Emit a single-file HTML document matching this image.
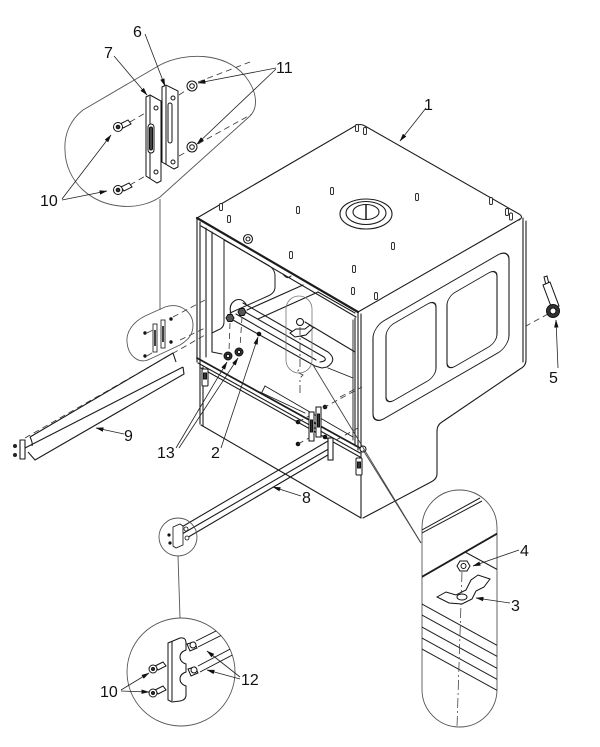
<!DOCTYPE html>
<html><head><meta charset="utf-8"><style>
html,body{margin:0;padding:0;background:#fff;}
svg{display:block;}
text{font-family:"Liberation Sans",Arial,sans-serif;font-size:16px;fill:#111;}
</style></head><body>
<svg width="600" height="747" viewBox="0 0 600 747" xmlns="http://www.w3.org/2000/svg">
<defs>
<marker id="ar" markerWidth="8" markerHeight="6" refX="7.5" refY="3" orient="auto" markerUnits="userSpaceOnUse"><path d="M0,0.8 L8,3 L0,5.2 Z" fill="#111"/></marker>
<clipPath id="cb"><rect x="422" y="490" width="75" height="237" rx="37.5"/></clipPath>
<clipPath id="cc"><circle cx="181" cy="672" r="54"/></clipPath>
</defs>
<rect width="600" height="747" fill="#fff"/>

<!-- ===== MAIN BOX ===== -->
<g fill="none" stroke="#1c1c1c" stroke-width="1.1" stroke-linejoin="round" stroke-linecap="round">
  <path d="M197,218 L355,126 Q360,123 365,126 L519,214 Q524,217 519,220"/>
  <line x1="358" y1="312" x2="520" y2="219"/>
  <path d="M197,218 L358,312" stroke-width="2.2"/>
  <path d="M201,226 L356,317"/>
  <line x1="523" y1="218" x2="523" y2="362"/>
  <line x1="526" y1="221" x2="526" y2="360"/>
  <path d="M526,360 Q526,366 520,369 L442,422 Q437,425 437,431 L437,474 Q437,479 431,482 L363,518"/>
  <line x1="358" y1="312" x2="358" y2="450"/>
  <line x1="361" y1="314" x2="361" y2="518"/>
  <line x1="355" y1="318" x2="355" y2="446"/>
  <line x1="197" y1="218" x2="197" y2="362"/>
  <line x1="200" y1="222" x2="200" y2="362"/>
  <line x1="206" y1="228" x2="206" y2="357"/>
  <line x1="212" y1="232" x2="212" y2="352"/>
  <line x1="197" y1="358" x2="360" y2="448" stroke-width="1.7"/>
  <line x1="198" y1="363" x2="360" y2="453"/>
  <line x1="201" y1="368" x2="360" y2="457"/>
  <line x1="200" y1="362" x2="200" y2="424"/>
  <line x1="203" y1="367" x2="203" y2="426"/>
  <line x1="201" y1="425" x2="361" y2="518"/>

  <g transform="translate(373,327) skewY(-30)"><rect x="0" y="0" width="136" height="98" rx="11"/></g>
  <g transform="translate(386,328) skewY(-30)"><rect x="0" y="0" width="50" height="77" rx="8"/></g>
  <g transform="translate(447,297) skewY(-30)"><rect x="0" y="0" width="50" height="74" rx="8"/></g>

  <ellipse cx="366" cy="214" rx="26" ry="15"/>
  <ellipse cx="366" cy="213" rx="20" ry="11.5"/>
  <ellipse cx="366" cy="212" rx="13" ry="7.5"/>
  <line x1="366" y1="205" x2="366" y2="219" stroke-width="1.5"/>

  <circle cx="248" cy="239" r="4.5"/><circle cx="248" cy="239" r="2"/>
  <path d="M283,274 Q287,280 291,276"/>

  <path d="M224,240 L268,265 Q275,269 275,276 L275,287 Q275,293 268,296 L230,313" stroke-width="1"/>
  <path d="M224,240 L224,322 Q224,328 218,330 L212,333" stroke-width="1"/>
  <line x1="303" y1="285" x2="247" y2="310"/>
  <line x1="318" y1="292" x2="258" y2="319"/>
  <line x1="318" y1="292" x2="355" y2="313"/>
  <line x1="305" y1="322" x2="355" y2="352"/>
  <line x1="265" y1="386" x2="353" y2="437" stroke-width="0.9"/>
  <line x1="260" y1="392" x2="305" y2="413" stroke-width="0.9"/>
  <line x1="265" y1="386" x2="262" y2="392" stroke-width="0.9"/>
  <line x1="212" y1="352" x2="222" y2="354" stroke-width="0.9"/>
  <line x1="328" y1="368" x2="353" y2="378" stroke-width="0.9"/>
  <line x1="353" y1="320" x2="353" y2="440" stroke-width="0.9"/>

  <path d="M243,303 L328,352 Q338,360 327,367 L322,368"/>
  <path d="M240,309 L324,357 Q328,361 320,362"/>
  <path d="M236,314 L316,360"/>
  <path d="M233,320 L315,366 L322,368"/>
  <path d="M231,314 Q228,304 236,300 Q242,298 246,304"/>
</g>

<g fill="#fff" stroke="#222" stroke-width="0.9">
  <rect x="355.5" y="124.5" width="3" height="7" rx="1.3"/>
  <rect x="363.5" y="127.5" width="3" height="7" rx="1.3"/>
  <rect x="330.5" y="187.5" width="3" height="7" rx="1.3"/>
  <rect x="415.5" y="193.5" width="3" height="7" rx="1.3"/>
  <rect x="219.5" y="203.5" width="3" height="7" rx="1.3"/>
  <rect x="227.5" y="215.5" width="3" height="7" rx="1.3"/>
  <rect x="296.5" y="206.5" width="3" height="7" rx="1.3"/>
  <rect x="489.5" y="197.5" width="3" height="7" rx="1.3"/>
  <rect x="505.5" y="208.5" width="3" height="7" rx="1.3"/>
  <rect x="509.5" y="213" width="3" height="7" rx="1.3"/>
  <rect x="391.5" y="242.5" width="3" height="7" rx="1.3"/>
  <rect x="289.5" y="251.5" width="3" height="7" rx="1.3"/>
  <rect x="352.5" y="265.5" width="3" height="7" rx="1.3"/>
  <rect x="351.5" y="287.5" width="3" height="7" rx="1.3"/>
  <rect x="374.5" y="292.5" width="3" height="7" rx="1.3"/>
</g>

<g stroke="#111" stroke-width="1" fill="#fff">
  <path d="M226,318 L228,314.5 L232,314.5 L234,318 L232,321.5 L228,321.5 Z" fill="#555"/>
  <path d="M238,312 L240,308.5 L244,308.5 L246,312 L244,315.5 L240,315.5 Z" fill="#555"/>
  <circle cx="228" cy="356" r="4" fill="#333"/><circle cx="228" cy="356" r="1.6" fill="#fff"/>
  <circle cx="239" cy="352" r="4" fill="#333"/><circle cx="239" cy="352" r="1.6" fill="#fff"/>
  <circle cx="300" cy="322" r="3.5"/>
  <path d="M290,333 L296,329 L305,329 L310,325 L313,328 L306,335 L295,337 Z"/>
  <circle cx="259" cy="334" r="1.8" fill="#111"/>
  <circle cx="363" cy="449" r="3"/>
  <rect x="202" y="369" width="6" height="17" rx="1"/><rect x="203.5" y="373" width="3" height="6" fill="#333"/>
  <rect x="356" y="458" width="6" height="17" rx="1"/><rect x="357.5" y="462" width="3" height="6" fill="#333"/>
  <rect x="309" y="412" width="5" height="29"/><rect x="310.5" y="420" width="2" height="12" fill="#333"/>
  <rect x="316" y="407" width="5" height="30"/><rect x="317.5" y="414" width="2" height="13" fill="#333"/>
  <circle cx="325" cy="407" r="1.8" fill="#111"/>
  <circle cx="298" cy="422" r="1.8" fill="#111"/>
  <circle cx="298" cy="444" r="1.8" fill="#111"/>
  <circle cx="325" cy="437" r="1.8" fill="#111"/>
</g>

<rect x="286" y="296" width="26" height="77" rx="13" fill="none" stroke="#777" stroke-width="0.8"/>

<g stroke="#333" stroke-width="0.8" fill="none" stroke-dasharray="6,4">
  <line x1="230" y1="323" x2="229" y2="351"/>
  <line x1="242" y1="317" x2="240" y2="347"/>
  <path d="M300,327 L300,368 L297,372 L303,375 L300,378 L300,396" stroke-dasharray="8,3,2,3"/>
  <line x1="25" y1="438" x2="205" y2="335"/>
  <line x1="173" y1="317" x2="205" y2="300"/>
  <line x1="180" y1="340" x2="205" y2="328"/>
  <line x1="323" y1="408" x2="362" y2="387"/>
  <line x1="298" y1="422" x2="309" y2="416"/>
  <line x1="298" y1="444" x2="309" y2="438"/>
  <line x1="336" y1="440" x2="358" y2="428"/>
  <line x1="548" y1="314" x2="526" y2="326"/>
  <line x1="340" y1="397" x2="357" y2="388"/>
  <line x1="130" y1="122" x2="152" y2="109"/>
  <line x1="130" y1="185" x2="152" y2="172"/>
  <line x1="179" y1="95" x2="188" y2="89"/>
  <line x1="179" y1="156" x2="188" y2="151"/>
  <line x1="198" y1="82" x2="250" y2="62"/>
  <line x1="198" y1="144" x2="252" y2="114"/>
  <line x1="147" y1="333" x2="155" y2="329"/>
  <line x1="147" y1="356" x2="155" y2="351"/>
</g>

<g stroke="#111" stroke-width="1" fill="#fff">
  <path d="M544,277 L547,276 L549,284 L546,285 Z"/>
  <path d="M543,285 L550,282 L559,306 L552,309 Z"/>
  <circle cx="553" cy="311" r="6.5" fill="#333"/>
  <circle cx="553" cy="311" r="3" fill="#fff"/>
</g>

<g fill="none" stroke="#1c1c1c" stroke-width="1.1" stroke-linejoin="round">
  <path d="M30,437 L173,353 L176,362"/>
  <path d="M25,448 L183,367"/>
  <path d="M28,452 L35,460 L184,374 L183,367"/>
  <path d="M30,437 Q33,443 32,446"/>
  <rect x="20" y="440" width="5" height="19" fill="#fff"/>
</g>
<circle cx="15" cy="446" r="2" fill="#222"/>
<circle cx="15" cy="455" r="2" fill="#222"/>

<g fill="none" stroke="#1c1c1c" stroke-width="1.1">
  <line x1="180" y1="528" x2="328" y2="441"/>
  <line x1="182" y1="534" x2="332" y2="447"/>
  <line x1="185" y1="539" x2="333" y2="452"/>
  <rect x="328" y="438" width="5" height="22" fill="#fff"/>
</g>

<path d="M65,150 C64,135 70,120 83,110 L160,65 C185,52 225,52 245,76 C258,92 258,108 250,116 L160,197 C140,211 105,210 83,190 C72,180 65,165 65,150 Z" fill="none" stroke="#555" stroke-width="0.9"/>
<line x1="160" y1="199" x2="160" y2="310" stroke="#555" stroke-width="0.9"/>
<g stroke="#111" stroke-width="1" fill="#fff">
  <path d="M146,97 L150,95 L161,101 L161,181 L157,183 L146,176 Z"/>
  <line x1="150" y1="96" x2="150" y2="178"/>
  <rect x="148" y="124" width="6" height="29" rx="3"/>
  <rect x="149.5" y="127" width="3" height="23" rx="1.5" fill="#444"/>
  <circle cx="156" cy="108" r="2"/><circle cx="156" cy="172" r="2"/>
  <path d="M162,87 L166,85 L178,91 L178,167 L174,169 L162,162 Z"/>
  <line x1="166" y1="86" x2="166" y2="164"/>
  <rect x="168" y="103" width="4" height="40" rx="2"/>
  <circle cx="173" cy="98" r="2"/><circle cx="173" cy="162" r="2"/>
  <circle cx="192" cy="86" r="5"/><circle cx="192" cy="86" r="2.3"/>
  <circle cx="192" cy="147" r="5"/><circle cx="192" cy="147" r="2.3"/>
  <path d="M120,124 L128,120 L131,124 L123,128 Z"/>
  <circle cx="118" cy="127" r="4.5"/><circle cx="118" cy="127" r="1.8" fill="#333"/>
  <path d="M121,187 L129,183 L132,187 L124,191 Z"/>
  <circle cx="118" cy="190" r="4.5"/><circle cx="118" cy="190" r="1.8" fill="#333"/>
</g>

<path d="M127,342 C126,332 133,322 145,316 L165,307 C180,302 193,312 193,325 C193,335 188,340 180,345 L150,359 C138,365 128,355 127,342 Z" fill="none" stroke="#555" stroke-width="0.9"/>
<g stroke="#111" stroke-width="0.8" fill="#fff">
  <rect x="153" y="324" width="4" height="28"/>
  <rect x="161" y="320" width="4" height="28"/>
  <line x1="155" y1="330" x2="155" y2="346" stroke-width="1.6"/>
  <line x1="163" y1="326" x2="163" y2="342" stroke-width="1.6"/>
</g>
<g fill="#111"><circle cx="145" cy="333" r="1.7"/><circle cx="145" cy="356" r="1.7"/><circle cx="171" cy="319" r="1.7"/><circle cx="171" cy="342" r="1.7"/></g>

<circle cx="178" cy="537" r="19" fill="none" stroke="#555" stroke-width="0.9"/>
<g stroke="#111" stroke-width="0.8" fill="#fff">
  <path d="M173,527 L180,524 L183,526 L183,545 L176,548 L173,546 Z"/>
  <circle cx="186" cy="529" r="2"/><circle cx="187" cy="538" r="2"/>
</g>
<circle cx="169" cy="535" r="1.6" fill="#111"/><circle cx="170" cy="543" r="1.6" fill="#111"/>
<line x1="178" y1="556" x2="180" y2="618" stroke="#555" stroke-width="0.9"/>
<circle cx="181" cy="672" r="54" fill="none" stroke="#555" stroke-width="0.9"/>
<g clip-path="url(#cc)" stroke="#111" stroke-width="0.9" fill="none">
  <line x1="196" y1="641" x2="226" y2="626"/>
  <line x1="198" y1="647" x2="228" y2="632"/>
  <line x1="198" y1="666" x2="236" y2="646"/>
  <line x1="200" y1="672" x2="238" y2="652"/>
</g>
<g stroke="#111" stroke-width="1" fill="#fff">
  <path d="M168,643 L180,638 Q186,637 186,643 L186,650 Q180,652 180,657 Q180,662 186,664 L186,672 Q180,674 180,679 Q180,684 186,686 L186,695 Q186,700 180,701 L172,702 L168,700 Z"/>
  <line x1="172" y1="641" x2="172" y2="701"/>
  <path d="M187,644 L194,642 L197,648 L190,651 Z"/>
  <circle cx="193" cy="645" r="3"/>
  <path d="M188,669 L195,667 L198,673 L191,676 Z"/>
  <circle cx="194" cy="670" r="3"/>
  <path d="M155,666 L163,662 L166,666 L158,670 Z"/>
  <circle cx="153" cy="669" r="4"/><circle cx="153" cy="669" r="1.5" fill="#333"/>
  <path d="M155,690 L163,686 L166,690 L158,694 Z"/>
  <circle cx="153" cy="693" r="4"/><circle cx="153" cy="693" r="1.5" fill="#333"/>
</g>

<line x1="313" y1="365" x2="421" y2="543" stroke="#444" stroke-width="0.9"/>
<line x1="363" y1="450" x2="421" y2="543" stroke="#444" stroke-width="0.9"/>
<rect x="422" y="490" width="75" height="237" rx="37.5" fill="#fff" stroke="#555" stroke-width="0.9"/>
<g clip-path="url(#cb)" stroke="#1c1c1c" stroke-width="1" fill="none">
  <line x1="420" y1="534" x2="482" y2="501"/>
  <line x1="420" y1="531" x2="480" y2="498"/>
  <line x1="420" y1="578" x2="500" y2="532" stroke-width="1.8"/>
  <line x1="465" y1="552" x2="500" y2="571"/>
  <line x1="420" y1="603" x2="500" y2="647"/>
  <line x1="420" y1="614" x2="500" y2="658"/>
  <line x1="420" y1="626" x2="500" y2="670"/>
  <line x1="420" y1="637" x2="500" y2="681"/>
  <line x1="420" y1="648" x2="500" y2="692"/>
  <path d="M462,572 L457,727" stroke="#444" stroke-width="0.8" stroke-dasharray="10,3,2,3"/>
</g>
<g stroke="#111" stroke-width="1" fill="#fff">
  <path d="M437,597 L446,592 L456,595 L466,590 L471,580 L478,575 L490,579 L484,587 L476,591 L472,599 L462,604 L449,603 Z"/>
  <ellipse cx="462" cy="597" rx="5" ry="3"/>
  <path d="M457,566 L460,561 L467,561 L470,566 L467,571 L460,571 Z"/>
  <circle cx="463.5" cy="566" r="2.5"/>
</g>

<g stroke="#222" stroke-width="0.8" fill="none" marker-end="url(#ar)">
  <line x1="426" y1="108" x2="400" y2="141"/>
  <line x1="145" y1="34" x2="165" y2="86"/>
  <line x1="114" y1="56" x2="147" y2="95"/>
  <line x1="276" y1="68" x2="198" y2="83"/>
  <line x1="276" y1="69" x2="197" y2="144"/>
  <line x1="62" y1="199" x2="111" y2="135"/>
  <line x1="62" y1="200" x2="107" y2="191"/>
  <line x1="558" y1="368" x2="556" y2="320"/>
  <line x1="124" y1="434" x2="96" y2="428"/>
  <line x1="176" y1="448" x2="227" y2="362"/>
  <line x1="179" y1="448" x2="238" y2="358"/>
  <line x1="221" y1="448" x2="258" y2="337"/>
  <line x1="301" y1="496" x2="273" y2="487"/>
  <line x1="519" y1="550" x2="473" y2="566"/>
  <line x1="510" y1="603" x2="476" y2="598"/>
  <line x1="240" y1="677" x2="207" y2="651"/>
  <line x1="240" y1="679" x2="207" y2="670"/>
  <line x1="121" y1="690" x2="149" y2="673"/>
  <line x1="121" y1="691" x2="149" y2="692"/>
</g>

<text x="424" y="110">1</text>
<text x="133" y="37">6</text>
<text x="104" y="58">7</text>
<text x="276" y="73">11</text>
<text x="40" y="206">10</text>
<text x="549" y="383">5</text>
<text x="124" y="441">9</text>
<text x="157" y="458">13</text>
<text x="211" y="458">2</text>
<text x="302" y="503">8</text>
<text x="520" y="556">4</text>
<text x="511" y="611">3</text>
<text x="241" y="685">12</text>
<text x="100" y="697">10</text>
</svg>
</body></html>
